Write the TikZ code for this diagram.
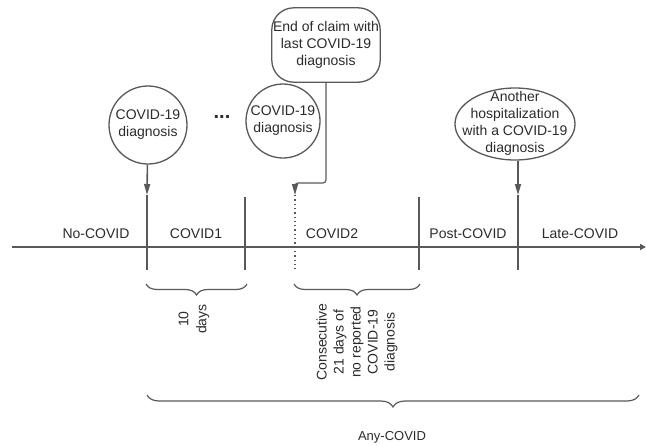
\documentclass[tikz,border=0pt]{standalone}
\usepackage{fontspec}
\setmainfont{Liberation Sans}
\usetikzlibrary{shapes.geometric,arrows.meta,decorations.pathreplacing}
\definecolor{linec}{HTML}{595959}
\definecolor{textc}{HTML}{2B2B2B}
\tikzset{
  every node/.style={text=textc, font=\fontsize{14}{17}\selectfont},
  bubble/.style={draw=linec, line width=1.3pt, circle, inner sep=0pt},
  txt/.style={align=center, inner sep=0pt},
  tick/.style={draw=linec, line width=1.2pt},
  arr/.style={draw=linec, line width=1.6pt, -{Triangle[width=6pt,length=11pt]}},
  bracestyle/.style={draw=linec, line width=1.2pt, decorate},
}
\begin{document}
\begin{tikzpicture}[x=1pt,y=-1pt]
\useasboundingbox (0,0) rectangle (646,445);
% shapes
\node[bubble, minimum size=78pt] (c1) at (148,125) {};
\node[txt] (c1t) at (148,125) {COVID-19\\diagnosis};
\node[bubble, minimum size=74pt] (c2) at (283,121) {};
\node[txt] (c2t) at (283,121) {COVID-19\\diagnosis};
\node[txt, font=\fontsize{20}{20}\selectfont\bfseries] (dots) at (222,117) {...};
\node[minimum width=108pt, minimum height=74pt, inner sep=0pt] (box) at (326,45) {};
\fill[white, rounded corners=22pt] (box.south west) rectangle (box.north east);
\draw[linec, line width=1.3pt, rounded corners=22pt] (box.south west) rectangle (box.north east);
\node[txt] (boxt) at (326,45) {End of claim with\\last COVID-19\\diagnosis};
\node[draw=linec, line width=1.3pt, ellipse, minimum width=120pt, minimum height=72pt, inner sep=0pt] (ell) at (515,124) {};
\node[txt] (ellt) at (515,123) {Another\\hospitalization\\with a COVID-19\\diagnosis};
% timeline
\coordinate (t0) at (12,247);
\coordinate (t1) at (646,247);
\draw[draw=linec, line width=2.4pt, -{Triangle[width=6pt,length=6pt]}] (t0) -- (t1);
% ticks
\coordinate (a1) at (147,195);
\coordinate (b1) at (147,270);
\coordinate (a2) at (245,197);
\coordinate (b2) at (245,270);
\coordinate (a3) at (295,195);
\coordinate (b3) at (295,270);
\coordinate (a4) at (419,197);
\coordinate (b4) at (419,270);
\coordinate (a5) at (518,195);
\coordinate (b5) at (518,270);
\draw[tick] (a1) -- (b1);
\draw[tick] (a2) -- (b2);
\draw[draw=linec, line width=1.2pt, dash pattern=on 1.3pt off 3pt] (a3) -- (b3);
\draw[tick] (a4) -- (b4);
\draw[tick] (a5) -- (b5);
% arrows
\draw[arr] (c1) -- (a1);
\coordinate (k1) at (326,183);
\draw[arr, line width=1.2pt, rounded corners=3pt] (box.south) -- (k1) -- (a3 |- k1) -- (a3);
\draw[arr] (ell.south -| a5) -- (a5);
% phase labels
\node (l0) at (96,234) {No-COVID};
\node (l1) at (196,234) {COVID1};
\node (l2) at (332,234) {COVID2};
\node (l3) at (468,234) {Post-COVID};
\node (l4) at (580,234) {Late-COVID};
% braces
\coordinate (br1a) at (146,284);
\coordinate (br1b) at (247,284);
\coordinate (br2a) at (294,284);
\coordinate (br2b) at (420,284);
\coordinate (br3a) at (147,395);
\coordinate (br3b) at (639,395);
\draw[bracestyle, decoration={brace, mirror, amplitude=11pt}] (br1a) -- (br1b);
\draw[bracestyle, decoration={brace, mirror, amplitude=11pt}] (br2a) -- (br2b);
\draw[bracestyle, decoration={brace, mirror, amplitude=12pt}] (br3a) -- (br3b);
\node[txt, rotate=90, font=\fontsize{14}{18}\selectfont] (d10) at (194,319) {10\\days};
\node[txt, rotate=90] (d21) at (357,342) {Consecutive\\21 days of\\no reported\\COVID-19\\diagnosis};
\node[font=\fontsize{13}{15}\selectfont] (any) at (392,437) {Any-COVID};
\end{tikzpicture}
\end{document}
